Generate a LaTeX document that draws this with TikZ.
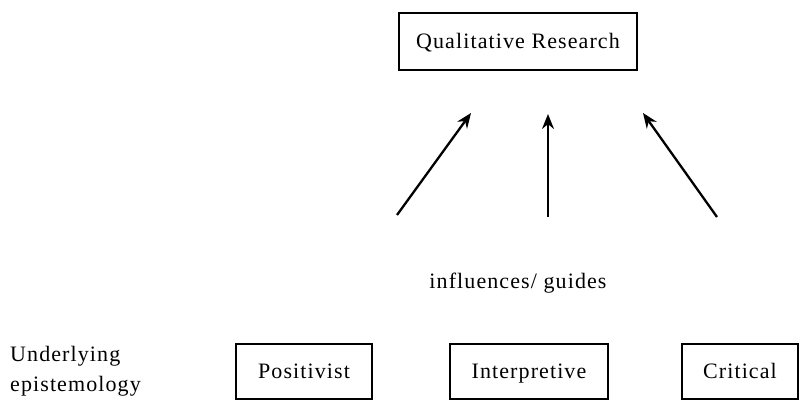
\documentclass[tikz,border=0pt]{standalone}
\usepackage{fontspec}
\setmainfont[LetterSpace=5]{Liberation Serif}
\usetikzlibrary{arrows.meta}
\begin{document}
\begin{tikzpicture}[x=1pt,y=-1pt,
  box/.style={draw, line width=2pt, inner sep=0pt, text height=16pt, text depth=2pt, font=\fontsize{22}{24}\selectfont},
  lab/.style={font=\fontsize{22}{30}\selectfont, inner sep=0pt},
  arr/.style={line width=2.3pt, -{Stealth[length=15pt,width=12pt]}}]
\useasboundingbox (0,0) rectangle (801,420);
\node[box, minimum width=238pt, minimum height=57pt] (qr) at (518,42) {Qualitative Research};
\node[box, minimum width=136pt, minimum height=55pt] (pos) at (304,371) {Positivist};
\node[box, minimum width=158pt, minimum height=55pt] (int) at (529,371) {Interpretive};
\node[box, minimum width=116pt, minimum height=55pt] (cri) at (740,371) {Critical};
\node[lab] (inf) at (518,283) {influences/ guides};
\node[lab, align=left, anchor=west] (ue) at (10,371) {Underlying\\epistemology};
\coordinate (a1s) at (397,215); \coordinate (a1e) at (471,113);
\coordinate (a2s) at (548,217); \coordinate (a2e) at (548,114);
\coordinate (a3s) at (717,217); \coordinate (a3e) at (643,113);
\draw[arr] (a1s) -- (a1e);
\draw[arr] (a2s) -- (a2e);
\draw[arr] (a3s) -- (a3e);
\end{tikzpicture}
\end{document}
